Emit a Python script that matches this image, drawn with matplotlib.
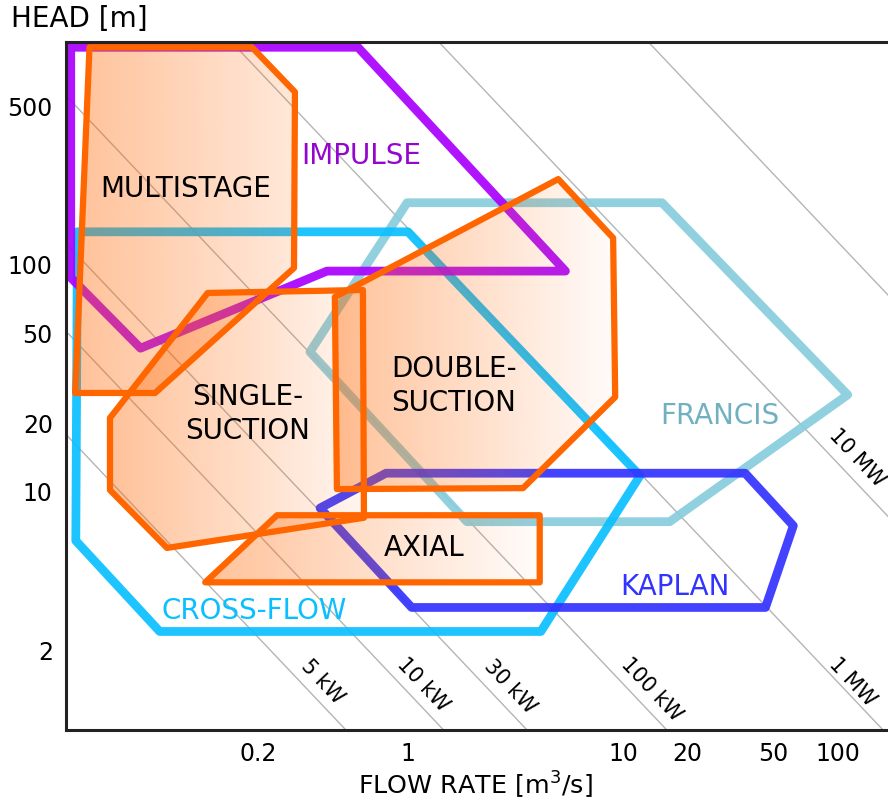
import numpy as np
import matplotlib
matplotlib.use('Agg')
import matplotlib.pyplot as plt
from matplotlib.patches import Polygon
from matplotlib.ticker import FixedLocator, FixedFormatter, NullLocator

# --- application ranges, flow rate Q [m3/s] / head H [m] ---
impulse_q = [0.027, 0.585, 5.4, 0.42, 0.057, 0.027]
impulse_h = [910, 910, 94, 94, 43, 88]
crossflow_q = [0.029, 1.0, 12.0, 4.15, 0.070, 0.0285]
crossflow_h = [140, 140, 11.8, 2.43, 2.43, 6.1]
francis_q = [0.35, 0.99, 15.2, 111, 16.5, 1.88]
francis_h = [41.4, 188, 188, 26.8, 7.4, 7.4]
kaplan_q = [0.39, 0.79, 37, 62, 46, 1.04]
kaplan_h = [8.5, 12.1, 12.1, 7.1, 3.1, 3.1]

multistage_q = [0.033, 0.188, 0.298, 0.295, 0.0666, 0.0283]
multistage_h = [910, 910, 578, 97, 27.3, 27.3]
single_q = [0.117, 0.617, 0.624, 0.0757, 0.0411, 0.0411]
single_h = [75.3, 77.6, 7.7, 5.67, 10.2, 21.2]
double_q = [0.457, 5.0, 9.0, 9.2, 3.43, 0.467]
double_h = [72.3, 239, 131.5, 26.2, 10.4, 10.3]
axial_q = [0.246, 4.1, 4.1, 0.114]
axial_h = [7.9, 7.9, 4.0, 4.0]

# iso-power lines (constant Q*H)
power_labels = ['5 kW', '10 kW', '30 kW', '100 kW', '1 MW', '10 MW', '']
power_qh = [0.46, 1.31, 3.2, 14.3, 145, 1335, 12600]

x_ticks = [0.2, 1, 10, 20, 50, 100]
x_ticklabels = ['0.2', '1', '10', '20', '50', '100']
y_ticks = [2, 10, 20, 50, 100, 500]
y_ticklabels = ['2', '10', '20', '50', '100', '500']

# label positions (Q, H)
power_label_pos = [(0.398, 1.456), (1.174, 1.412), (2.98, 1.383),
                   (13.6, 1.342), (117, 1.456), (122, 14.1)]

fig = plt.figure(figsize=(8.88, 8.01), dpi=100)
ax = fig.add_axes([66 / 888, 71 / 801, 822 / 888, 688 / 801])
ax.set_xscale('log')
ax.set_yscale('log')
xlim = (0.02566, 170.9)
ylim = (0.8945, 960)
ax.set_xlim(xlim)
ax.set_ylim(ylim)

# gray power lines
qq = np.logspace(np.log10(xlim[0]), np.log10(xlim[1]), 50)
for c in power_qh:
    ax.plot(qq, c / qq, color='#b5b5b5', lw=1.0, zorder=1)

# turbines
turbines = [
    (francis_q, francis_h, '#88ccdd'),
    (crossflow_q, crossflow_h, '#0abfff'),
    (impulse_q, impulse_h, '#aa00ff'),
    (kaplan_q, kaplan_h, '#3333ff'),
]
for q, h, col in turbines:
    ax.add_patch(Polygon(np.column_stack([q, h]), closed=True, fill=False,
                         edgecolor=col, lw=6.3, joinstyle='round',
                         alpha=0.92, zorder=2))

# pumps with gradient fill
pumps = [
    (multistage_q, multistage_h, 0.15),
    (single_q, single_h, 0.06),
    (double_q, double_h, 0.02),
    (axial_q, axial_h, 0.02),
]
for q, h, a_end in pumps:
    pts = np.column_stack([q, h])
    clip = Polygon(pts, closed=True, transform=ax.transData)
    apts = ax.transAxes.inverted().transform(ax.transData.transform(pts))
    x0, x1 = apts[:, 0].min(), apts[:, 0].max()
    y0, y1 = apts[:, 1].min(), apts[:, 1].max()
    grad = np.zeros((2, 256, 4))
    grad[..., 0] = 1.0
    grad[..., 1] = 0.4
    grad[..., 3] = np.linspace(0.4, a_end, 256)
    im = ax.imshow(grad, extent=[x0, x1, y0, y1], transform=ax.transAxes,
                   aspect='auto', interpolation='bilinear', zorder=3)
    im.set_clip_path(clip)
    ax.add_patch(Polygon(pts, closed=True, fill=False, edgecolor='#ff6600',
                         lw=4.5, joinstyle='round', zorder=4))

ax.set_xlim(xlim)
ax.set_ylim(ylim)
ax.set_aspect('auto')

# region labels
fs = 20
ax.text(0.6045, 302, 'IMPULSE', color='#9406d0', fontsize=fs, ha='center', va='center', zorder=5)
ax.text(0.0928, 216, 'MULTISTAGE', color='black', fontsize=fs, ha='center', va='center', zorder=5)
ax.text(0.180, 22.1, 'SINGLE-\nSUCTION', color='black', fontsize=fs, ha='center', va='center',
        multialignment='center', linespacing=1.3, zorder=5)
ax.text(1.637, 29.3, 'DOUBLE-\nSUCTION', color='black', fontsize=fs, ha='center', va='center',
        multialignment='left', linespacing=1.3, zorder=5)
ax.text(1.187, 5.67, 'AXIAL', color='black', fontsize=fs, ha='center', va='center', zorder=5)
ax.text(28.3, 21.6, 'FRANCIS', color='#70b0c0', fontsize=fs, ha='center', va='center', zorder=5)
ax.text(17.5, 3.81, 'KAPLAN', color='#3333ff', fontsize=fs, ha='center', va='center', zorder=5)
ax.text(0.192, 2.99, 'CROSS-FLOW', color='#0abfff', fontsize=fs, ha='center', va='center', zorder=5)

# power line labels, rotated along the lines
p1 = ax.transData.transform((1, 1))
p2 = ax.transData.transform((10, 0.1))
ang = np.degrees(np.arctan2(p2[1] - p1[1], p2[0] - p1[0]))
for lab, (q, h) in zip(power_labels, power_label_pos):
    ax.text(q, h, lab, fontsize=15, rotation=ang, rotation_mode='anchor',
            ha='center', va='center', zorder=5)

# axes styling
for s in ['left', 'bottom', 'top']:
    ax.spines[s].set_linewidth(2.2)
    ax.spines[s].set_color('#222222')
ax.spines['right'].set_visible(False)
ax.xaxis.set_major_locator(FixedLocator(x_ticks))
ax.xaxis.set_major_formatter(FixedFormatter(x_ticklabels))
ax.yaxis.set_major_locator(FixedLocator(y_ticks))
ax.yaxis.set_major_formatter(FixedFormatter(y_ticklabels))
ax.xaxis.set_minor_locator(NullLocator())
ax.yaxis.set_minor_locator(NullLocator())
ax.tick_params(axis='both', length=0, labelsize=17)
ax.tick_params(axis='x', pad=8.5)
ax.tick_params(axis='y', pad=9.5)

fig.text(11 / 888, 1 - 19 / 801, 'HEAD [m]', fontsize=20, ha='left', va='center')
fig.text(475 / 888, 1 - 785 / 801, 'FLOW RATE [m$^3$/s]', fontsize=18.3, ha='center', va='center')

fig.savefig('out.png', dpi=100)
